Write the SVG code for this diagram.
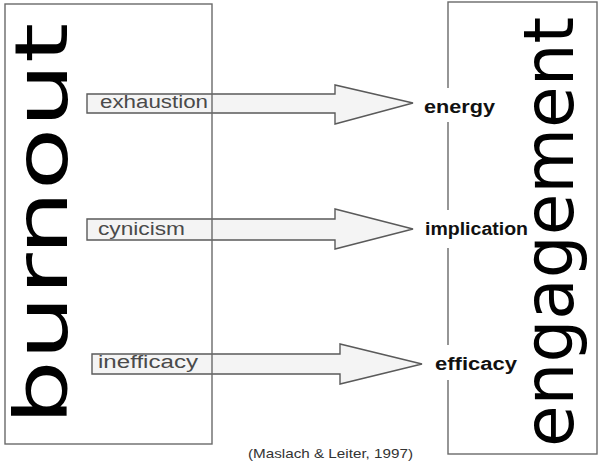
<svg xmlns="http://www.w3.org/2000/svg" width="600" height="464" viewBox="0 0 600 464">
<style>
.box{fill:none;stroke:#6a6a6a;stroke-width:1.4}
.arrow{fill:#f4f4f4;stroke:#5a5a5a;stroke-width:1.4;stroke-linejoin:miter}
.big{font-family:"DejaVu Sans","Liberation Sans",sans-serif;fill:#000}
.in{font-family:"Liberation Sans","DejaVu Sans",sans-serif;font-size:18px;fill:#4a4a4a}
.lab{font-family:"Liberation Sans","DejaVu Sans",sans-serif;font-size:18px;font-weight:bold;fill:#111}
.cite{font-family:"Liberation Sans","DejaVu Sans",sans-serif;font-size:13px;fill:#333}
</style>
<rect width="600" height="464" fill="#fff"/>
<g id="connectors">
  <g id="arrow-exhaustion">
    <polygon class="arrow" points="87,94 335,94 335,85 413,103 335,124 335,113 87,113"/>
    <text class="in" x="100" y="108" textLength="108" lengthAdjust="spacingAndGlyphs">exhaustion</text>
  </g>
  <g id="arrow-cynicism">
    <polygon class="arrow" points="87,219 335,219 335,209 413,229 335,249 335,240 87,240"/>
    <text class="in" x="98" y="235" textLength="87" lengthAdjust="spacingAndGlyphs">cynicism</text>
  </g>
  <g id="arrow-inefficacy">
    <polygon class="arrow" points="92,354 340,354 340,344 422,364 340,384 340,374 92,374"/>
    <text class="in" x="98" y="368" textLength="100" lengthAdjust="spacingAndGlyphs">inefficacy</text>
  </g>
</g>
<g id="burnout">
  <rect class="box" x="5" y="4" width="207" height="440"/>
  <text class="big" font-size="73" transform="translate(67,425) rotate(-90)" textLength="402" lengthAdjust="spacingAndGlyphs">burnout</text>
</g>
<g id="engagement">
  <rect class="box" x="448" y="2" width="149" height="452"/>
  <text class="big" font-size="70" transform="translate(573,447) rotate(-90)" textLength="430" lengthAdjust="spacingAndGlyphs">engagement</text>
</g>
<g id="energy">
  <rect x="418" y="88" width="82" height="34" fill="#fff"/>
  <text class="lab" x="424" y="113" textLength="71" lengthAdjust="spacingAndGlyphs">energy</text>
</g>
<g id="implication">
  <rect x="418" y="210" width="112" height="38" fill="#fff"/>
  <text class="lab" x="425" y="235" textLength="103" lengthAdjust="spacingAndGlyphs">implication</text>
</g>
<g id="efficacy">
  <rect x="428" y="345" width="92" height="35" fill="#fff"/>
  <text class="lab" x="435" y="370" textLength="82" lengthAdjust="spacingAndGlyphs">efficacy</text>
</g>
<text class="cite" x="248" y="458" textLength="165" lengthAdjust="spacingAndGlyphs">(Maslach &amp; Leiter, 1997)</text>
</svg>
